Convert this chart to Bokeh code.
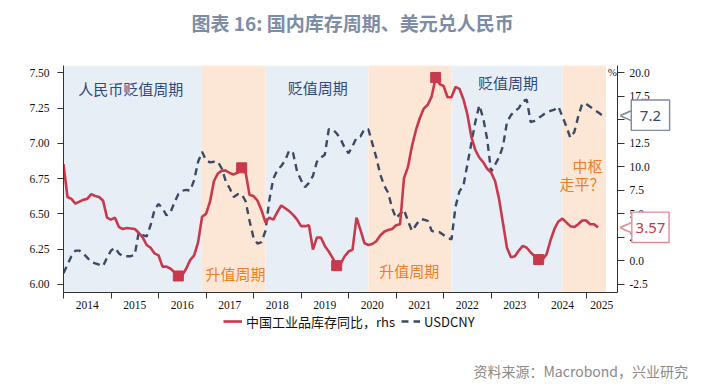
import numpy as np
import pandas as pd
from bokeh.plotting import figure
from bokeh.layouts import column
from bokeh.models import (Range1d, LinearAxis, FixedTicker, PrintfTickFormatter, Title,
                          BoxAnnotation, Label, Legend, LegendItem)
from bokeh.embed import file_html
from bokeh.resources import INLINE

# ---------------- data (monthly, starting 2014-01) ----------------
start_month = "2014-01"
inventory_yoy = [
    10.3, 6.8, 6.6, 6.1, 6.3, 6.5, 6.6, 7.1, 6.9, 6.8, 6.4, 4.6,
    4.4, 4.6, 3.6, 3.4, 3.5, 3.45, 3.4, 3.0, 2.5, 1.7, 1.4, 0.8,
    0.6, -0.6, -0.6, -0.8, -1.2, -1.6, -1.5, -0.8, 0.1, 0.6, 2.0, 4.7,
    5.0, 6.3, 8.5, 9.3, 9.6, 9.6, 9.35, 9.2, 9.4, 9.9, 9.4, 7.0,
    6.9, 6.4, 5.4, 4.1, 4.6, 4.4, 5.2, 5.9, 5.6, 5.3, 4.9, 4.4,
    3.7, 3.7, 3.8, 1.2, 2.5, 2.5, 1.6, 1.0, 0.3, -0.5, -0.3, 0.5,
    1.0, 1.2, 4.6, 3.3, 1.9, 1.7, 1.8, 2.1, 2.7, 3.1, 3.3, 3.4,
    3.8, 3.9, 8.8, 10.0, 12.2, 13.9, 15.2, 16.2, 16.6, 17.5, 19.5, 18.8,
    18.6, 17.4, 17.4, 18.5, 18.3, 17.2, 15.6, 13.2, 11.8, 11.0, 10.5, 9.8,
    9.4, 8.5, 6.6, 4.0, 1.4, 0.4, 0.5, 1.1, 1.6, 1.4, 0.9, 0.5,
    0.15, 0.2, 0.7, 2.2, 3.4, 4.2, 4.5, 4.1, 3.7, 3.6, 3.9, 4.3,
    4.3, 3.9, 3.9, 3.57,
]
usdcny = [
    6.08, 6.14, 6.20, 6.24, 6.24, 6.22, 6.19, 6.16, 6.15, 6.14, 6.13, 6.19,
    6.24, 6.26, 6.22, 6.20, 6.20, 6.20, 6.21, 6.37, 6.35, 6.34, 6.42, 6.53,
    6.57, 6.54, 6.49, 6.51, 6.58, 6.64, 6.665, 6.67, 6.665, 6.74, 6.87, 6.94,
    6.88, 6.865, 6.87, 6.87, 6.82, 6.73, 6.68, 6.62, 6.64, 6.64, 6.59, 6.45,
    6.33, 6.29, 6.30, 6.38, 6.60, 6.75, 6.81, 6.84, 6.88, 6.95, 6.93, 6.80,
    6.74, 6.69, 6.72, 6.77, 6.87, 6.90, 6.92, 7.10, 7.10, 7.07, 7.03, 6.97,
    6.93, 6.98, 7.04, 7.05, 7.10, 7.10, 7.00, 6.90, 6.78, 6.70, 6.65, 6.54,
    6.47, 6.50, 6.53, 6.45, 6.38, 6.42, 6.46, 6.46, 6.45, 6.38, 6.37, 6.37,
    6.35, 6.33, 6.32, 6.55, 6.66, 6.70, 6.85, 7.00, 7.15, 7.27, 7.18, 7.03,
    6.80, 6.85, 6.90, 6.98, 7.15, 7.20, 7.23, 7.25, 7.30, 7.31, 7.15, 7.16,
    7.18, 7.20, 7.22, 7.23, 7.24, 7.26, 7.19, 7.12, 7.04, 7.08, 7.19, 7.28,
    7.28, 7.26, 7.24, 7.22, 7.20,
]
extreme_idx = [29, 45, 69, 94, 120]          # marked lows / highs of inventory cycle
cycle_bounds = ["2014-01", "2016-12", "2018-04", "2020-06", "2022-03", "2024-07", "2025-06"]
cycle_kind = ["dep", "app", "dep", "app", "dep", "app"]
year_labels = [str(y) for y in range(2014, 2026)]
left_ticks = [6.00, 6.25, 6.50, 6.75, 7.00, 7.25, 7.50]
right_ticks = [-2.5, 0.0, 2.5, 5.0, 7.5, 10.0, 12.5, 15.0, 17.5, 20.0]

# ---------------- helpers ----------------
y0, m0 = map(int, start_month.split("-"))
def ym(s):
    y, m = map(int, s.split("-"))
    return y + (m - 1) / 12

def month_x(i):
    return y0 + (m0 - 1 + i) / 12

x_inv = [month_x(i) for i in range(len(inventory_yoy))]
x_fx = [month_x(i) for i in range(len(usdcny))]

X0, X1 = 2014.0, 2025.66
YL0, YL1 = 5.943, 7.552
def l2r(v): return (v - 6.0) * 15 - 2.5
def r2l(v): return 6.0 + (v + 2.5) / 15
YR0, YR1 = l2r(YL0), l2r(YL1)

W = 700
FL, FT, FR, FB = 62, 65, 617, 292          # frame edges (canvas px)
H1 = 311                                    # main figure height
H2 = 71                                     # legend / source strip height
PX_X = (FR - FL) / (X1 - X0)
PX_Y = (FB - FT) / (YL1 - YL0)
def px(xc): return X0 + (xc - FL) / PX_X
def py(yc): return YL1 - (yc - FT) / PX_Y

RED = "#C8394B"
NAVY = "#3B4A66"
BLUE_BG = "#E8EEF6"
ORANGE_BG = "#FCE7D7"
ORANGE_TXT = "#EE7E22"
BLUE_TXT = "#2E4A7E"
CJK = "Noto Sans CJK SC"

p = figure(width=W, height=H1, x_range=Range1d(X0, X1), y_range=Range1d(YL0, YL1),
           output_backend="svg", toolbar_location=None, title=None,
           min_border_left=FL, min_border_right=W - FR, min_border_top=FT,
           min_border_bottom=H1 - FB)
p.extra_y_ranges = {"rhs": Range1d(YR0, YR1)}
p.outline_line_color = None
p.grid.visible = False
p.background_fill_color = "white"

# shaded cycles
for i, kind in enumerate(cycle_kind):
    p.add_layout(BoxAnnotation(left=ym(cycle_bounds[i]), right=ym(cycle_bounds[i + 1]),
                               fill_color=BLUE_BG if kind == "dep" else ORANGE_BG,
                               fill_alpha=1.0, line_color=None, level="underlay"))

# lines
p.line(x_fx, usdcny, line_color=NAVY, line_width=2.4, line_dash="7 5")
p.line(x_inv, inventory_yoy, line_color=RED, line_width=2.6, y_range_name="rhs")
p.scatter([x_inv[i] for i in extreme_idx], [inventory_yoy[i] for i in extreme_idx],
          marker="square", size=10, color=RED, y_range_name="rhs")

# axes
AX = "#333333"
lax = p.yaxis[0]
lax.ticker = FixedTicker(ticks=left_ticks)
lax.formatter = PrintfTickFormatter(format="%.2f")
lax.major_tick_out = 6
lax.major_tick_in = 0
lax.major_label_standoff = 8

rax = LinearAxis(y_range_name="rhs", ticker=FixedTicker(ticks=right_ticks),
                 formatter=PrintfTickFormatter(format="%.1f"))
rax.major_tick_out = 7
rax.major_tick_in = 0
rax.major_label_standoff = 5
p.add_layout(rax, "right")

bax = p.xaxis[0]
years = list(range(2014, 2026))
label_pos = [y + 0.5 for y in years[:-1]] + [(years[-1] + X1) / 2]
bax.ticker = FixedTicker(ticks=label_pos, minor_ticks=years)
bax.major_label_overrides = {pos: lab for pos, lab in zip(label_pos, year_labels)}
bax.major_tick_out = 0
bax.major_tick_in = 0
bax.minor_tick_out = 6
bax.minor_tick_in = 0
bax.major_label_standoff = 2

for ax in (lax, rax, bax):
    ax.axis_line_color = AX
    ax.major_tick_line_color = AX if ax is not bax else None
    ax.minor_tick_line_color = AX if ax is bax else None
    ax.major_label_text_font = "Liberation Serif"
    ax.major_label_text_font_size = "11.5px"
    ax.major_label_text_color = "#111111"

# cycle labels
def lab(x, y, text, color, align="left"):
    p.add_layout(Label(x=x, y=y, text=text, text_color=color, text_font=CJK,
                       text_font_size="15px", text_align=align, text_baseline="middle"))

lab(px(76.7), py(88), "人民币贬值周期", BLUE_TXT)
lab(px(204.3), py(272.5), "升值周期", ORANGE_TXT)
lab(px(286.7), py(87), "贬值周期", BLUE_TXT)
lab(px(378.3), py(270), "升值周期", ORANGE_TXT)
lab(px(477.3), py(82), "贬值周期", BLUE_TXT)
lab(px(602), py(165), "中枢", ORANGE_TXT, "right")
lab(px(604), py(182.5), "走平？", ORANGE_TXT, "right")

# % unit
p.add_layout(Label(x=px(616.5), y=py(71.5), text="%", text_align="right", text_baseline="middle",
                   text_font="Liberation Serif", text_font_size="11px", text_color="#111111"))

# ---- callouts for the latest values: labels live in side panels so they are not clipped ----
def box_label(y, text, border, tcolor, side_pad):
    # blank first/last lines with a tight line height give the box its height
    body = "\u00a0\n" + side_pad + text + side_pad + "\n\u00a0"
    return Label(x=px(650), y=y, text=body, text_align="center", text_baseline="middle",
                 text_font="Noto Sans", text_font_size="15px", text_color=tcolor,
                 text_line_height=0.26,
                 border_line_color=border, border_line_width=1.4,
                 background_fill_color="white", background_fill_alpha=1.0)

def arrow_label(y, border):
    return Label(x=px(631.5), y=y, text="<", text_align="right", text_baseline="middle",
                 text_font="Liberation Sans", text_font_size="22px", text_color=border)

FX_BORDER, INV_BORDER = "#7F89A1", "#E08C98"
y_fx_last = usdcny[-1]
y_inv_last = r2l(inventory_yoy[-1])

# above panel: callout box (inner, also spaces the title up), then the title (outer)
p.add_layout(box_label(y_fx_last, f"{usdcny[-1]:.1f}", FX_BORDER, "#3B4660", "\u2007"), "above")
p.add_layout(Title(text="图表 16: 国内库存周期、美元兑人民币", align="left", offset=128, standoff=0,
                   text_font=CJK, text_font_size="19px", text_font_style="bold",
                   text_color="#7D8DA7"), "above")
# right panel: second callout box after the axis
p.add_layout(box_label(y_inv_last, f"{inventory_yoy[-1]:.2f}", INV_BORDER, RED, "\u2005"), "right")
# left panel: the two pointer arrows after the axis
p.add_layout(arrow_label(y_fx_last, FX_BORDER), "left")
p.add_layout(arrow_label(y_inv_last, INV_BORDER), "left")

# ---------------- legend + source strip ----------------
p2 = figure(width=W, height=H2, x_range=Range1d(0, 1), y_range=Range1d(0, 1),
            output_backend="svg", toolbar_location=None, x_axis_type=None, y_axis_type=None,
            min_border_left=FL, min_border_right=W - FR, min_border_top=0, min_border_bottom=24)
p2.outline_line_color = None
p2.grid.visible = False
g_inv = p2.line([0, 1], [-100, -100], line_color=RED, line_width=2.6)
g_fx = p2.line([0, 1], [-100, -100], line_color=NAVY, line_width=2.4, line_dash="7 5")
legend = Legend(items=[LegendItem(label="中国工业品库存同比，rhs", renderers=[g_inv]),
                       LegendItem(label="USDCNY", renderers=[g_fx])],
                orientation="horizontal", location=(222 - FL, 27))
legend.label_text_font = CJK
legend.label_text_font_size = "13px"
legend.label_text_color = "#111111"
legend.glyph_width = 19
legend.glyph_height = 20
legend.label_height = 20
legend.label_standoff = 4
legend.spacing = 6
legend.padding = 0
legend.margin = 0
legend.border_line_color = None
legend.background_fill_alpha = 0
p2.add_layout(legend, "center")

p2.add_layout(Title(text="资料来源：Macrobond，兴业研究", align="left", offset=472 - FL, standoff=0,
                    text_font=CJK, text_font_size="14px", text_font_style="normal",
                    text_color="#8A8A8A"), "below")

layout = column(p, p2, spacing=0)
open("out.html", "w").write(file_html(layout, INLINE))
